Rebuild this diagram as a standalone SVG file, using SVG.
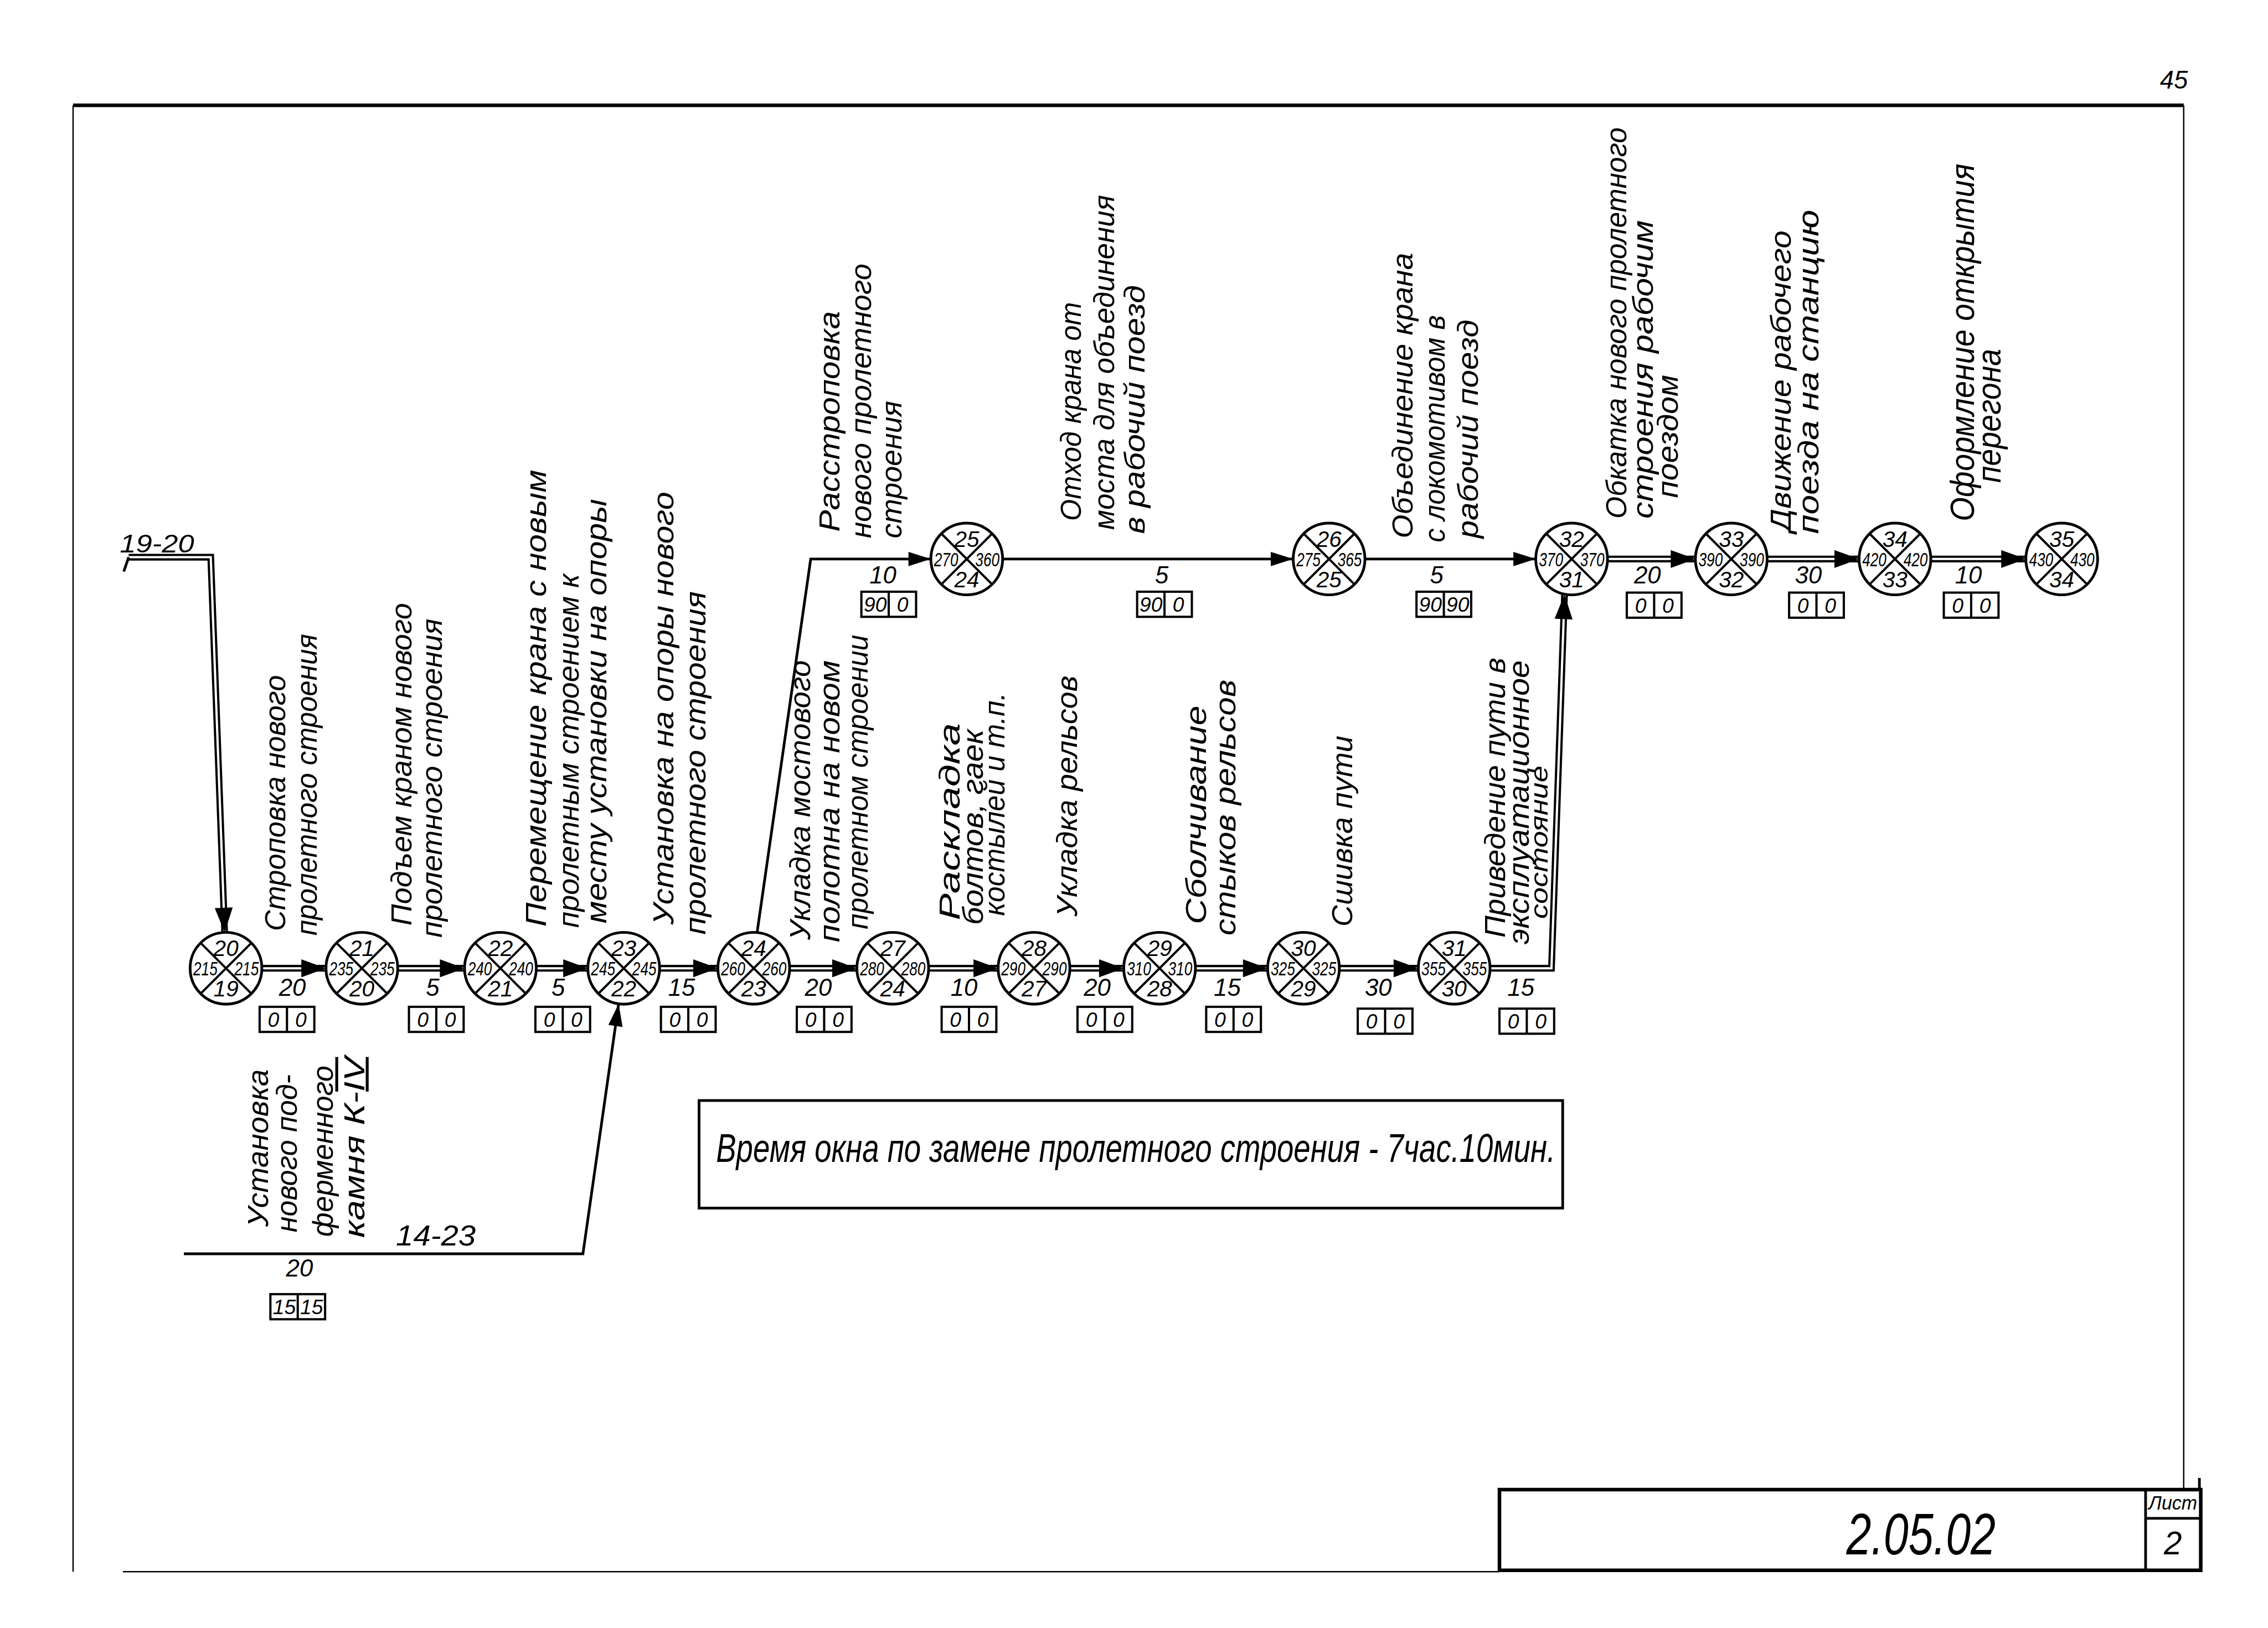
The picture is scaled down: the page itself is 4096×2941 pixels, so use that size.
<svg xmlns="http://www.w3.org/2000/svg" width="4096" height="2941" viewBox="0 0 4096 2941">
<style>
.t{font-family:'Liberation Sans','DejaVu Sans',sans-serif;font-style:italic;fill:#000}
.lb{font-size:64px}
.nn{font-size:50px;text-anchor:middle}
.ns{font-size:44px;text-anchor:middle}
.du{font-size:54px;text-anchor:middle}
.bt{font-size:46px;text-anchor:middle}
.nc{fill:#fff;stroke:#000;stroke-width:6}
.nx{stroke:#000;stroke-width:5;fill:none}
.d1{fill:none;stroke:#000;stroke-width:15;stroke-linejoin:miter}
.d2{fill:none;stroke:#fff;stroke-width:5;stroke-linejoin:miter}
.s1{fill:none;stroke:#000;stroke-width:6}
.ah{fill:#000}
.br{fill:#fff;stroke:#000;stroke-width:5}
.fr{fill:none;stroke:#000}
</style>
<rect width="4096" height="2941" fill="#fff"/>
<g transform="scale(0.80981)">
<g id="frame">
<path class="fr" stroke-width="8" d="M163 235H4870"/>
<path class="fr" stroke-width="3" d="M163 235V3506"/>
<path class="fr" stroke-width="3" d="M4870 235V3323"/>
<path class="fr" stroke-width="3" d="M274 3506H3344"/>
<rect class="fr" stroke-width="8" x="3344" y="3323" width="1564" height="180"/>
<path class="fr" stroke-width="6" d="M4785 3323V3503M4785 3387H4908M4905 3297V3323"/>
<text class="t" x="4284" y="3467" font-size="130" text-anchor="middle" textLength="333" lengthAdjust="spacingAndGlyphs">2.05.02</text>
<text class="t" x="4846" y="3368" font-size="44" text-anchor="middle" textLength="108" lengthAdjust="spacingAndGlyphs">Лист</text>
<text class="t" x="4846" y="3468" font-size="72" text-anchor="middle">2</text>
<text class="t" x="4848" y="198" font-size="56" text-anchor="middle">45</text>
</g>
<g id="connectors">
<path class="d1" d="M287 1243H470L504 2160"/>
<path class="d2" d="M287 1243H470L504 2160"/>
<path class="s1" stroke-width="4" d="M287 1243L276 1275"/>
<path class="d1" d="M504 2160H3460L3490 1300"/>
<path class="d2" d="M504 2160H3460L3490 1300"/>
<path class="d1" d="M3505 1247H4598"/>
<path class="d2" d="M3505 1247H4598"/>
<path class="s1" d="M1677 2160L1808 1247H3505"/>
<path class="s1" d="M410 2797H1300L1391 2160"/>
<g class="ah">
<polygon points="501,2080 479,2025.7 519,2024.3"/>
<polygon points="727,2160 672,2140 672,2180"/>
<polygon points="1036,2160 981,2140 981,2180"/>
<polygon points="1311,2160 1256,2140 1256,2180"/>
<polygon points="1601,2160 1546,2140 1546,2180"/>
<polygon points="1911,2160 1856,2140 1856,2180"/>
<polygon points="2226,2160 2171,2140 2171,2180"/>
<polygon points="2506,2160 2451,2140 2451,2180"/>
<polygon points="2827,2160 2772,2140 2772,2180"/>
<polygon points="3163,2160 3108,2140 3108,2180"/>
<polygon points="3489,1326 3467,1380.3 3507,1381.7"/>
<polygon points="3781,1247 3726,1227 3726,1267"/>
<polygon points="4146,1247 4091,1227 4091,1267"/>
<polygon points="4518,1247 4463,1227 4463,1267"/>
<polygon points="2076,1247 2026,1231 2026,1263"/>
<polygon points="2884,1247 2834,1231 2834,1263"/>
<polygon points="3425,1247 3375,1231 3375,1263"/>
<polygon points="1379.7,2239.2 1356.8,2286.4 1388.4,2291"/>
</g>
<text class="t" x="350" y="1232" font-size="56" text-anchor="middle" textLength="166" lengthAdjust="spacingAndGlyphs">19-20</text>
<text class="t" x="972" y="2778" font-size="64" text-anchor="middle" textLength="178" lengthAdjust="spacingAndGlyphs">14-23</text>
<g id="durations">
<text class="t du" x="652" y="2222">20</text>
<text class="t du" x="965" y="2222">5</text>
<text class="t du" x="1245" y="2222">5</text>
<text class="t du" x="1520" y="2222">15</text>
<text class="t du" x="1825" y="2222">20</text>
<text class="t du" x="2150" y="2222">10</text>
<text class="t du" x="2447" y="2222">20</text>
<text class="t du" x="2737" y="2222">15</text>
<text class="t du" x="3074" y="2222">30</text>
<text class="t du" x="3392" y="2222">15</text>
<text class="t du" x="1969" y="1302">10</text>
<text class="t du" x="2591" y="1302">5</text>
<text class="t du" x="3204" y="1302">5</text>
<text class="t du" x="3674" y="1302">20</text>
<text class="t du" x="4033" y="1302">30</text>
<text class="t du" x="4390" y="1302">10</text>
<text class="t du" x="668" y="2848">20</text>
</g>
<g id="boxes">
<g><rect class="br" x="579" y="2246" width="122" height="56"/><path class="nx" d="M640 2246V2302"/><text class="t bt" x="610" y="2291">0</text><text class="t bt" x="671" y="2291">0</text></g>
<g><rect class="br" x="912" y="2246" width="122" height="56"/><path class="nx" d="M973 2246V2302"/><text class="t bt" x="943" y="2291">0</text><text class="t bt" x="1004" y="2291">0</text></g>
<g><rect class="br" x="1194" y="2246" width="122" height="56"/><path class="nx" d="M1255 2246V2302"/><text class="t bt" x="1225" y="2291">0</text><text class="t bt" x="1286" y="2291">0</text></g>
<g><rect class="br" x="1474" y="2246" width="122" height="56"/><path class="nx" d="M1535 2246V2302"/><text class="t bt" x="1505" y="2291">0</text><text class="t bt" x="1566" y="2291">0</text></g>
<g><rect class="br" x="1777" y="2246" width="122" height="56"/><path class="nx" d="M1838 2246V2302"/><text class="t bt" x="1808" y="2291">0</text><text class="t bt" x="1869" y="2291">0</text></g>
<g><rect class="br" x="2100" y="2246" width="122" height="56"/><path class="nx" d="M2161 2246V2302"/><text class="t bt" x="2131" y="2291">0</text><text class="t bt" x="2192" y="2291">0</text></g>
<g><rect class="br" x="2403" y="2246" width="122" height="56"/><path class="nx" d="M2464 2246V2302"/><text class="t bt" x="2434" y="2291">0</text><text class="t bt" x="2495" y="2291">0</text></g>
<g><rect class="br" x="2690" y="2246" width="122" height="56"/><path class="nx" d="M2751 2246V2302"/><text class="t bt" x="2721" y="2291">0</text><text class="t bt" x="2782" y="2291">0</text></g>
<g><rect class="br" x="3028" y="2250" width="122" height="56"/><path class="nx" d="M3089 2250V2306"/><text class="t bt" x="3059" y="2295">0</text><text class="t bt" x="3120" y="2295">0</text></g>
<g><rect class="br" x="3344" y="2250" width="122" height="56"/><path class="nx" d="M3405 2250V2306"/><text class="t bt" x="3375" y="2295">0</text><text class="t bt" x="3436" y="2295">0</text></g>
<g><rect class="br" x="1921" y="1320" width="122" height="56"/><path class="nx" d="M1982 1320V1376"/><text class="t bt" x="1952" y="1365">90</text><text class="t bt" x="2013" y="1365">0</text></g>
<g><rect class="br" x="2536" y="1320" width="122" height="56"/><path class="nx" d="M2597 1320V1376"/><text class="t bt" x="2567" y="1365">90</text><text class="t bt" x="2628" y="1365">0</text></g>
<g><rect class="br" x="3159" y="1320" width="122" height="56"/><path class="nx" d="M3220 1320V1376"/><text class="t bt" x="3190" y="1365">90</text><text class="t bt" x="3251" y="1365">90</text></g>
<g><rect class="br" x="3628" y="1322" width="122" height="56"/><path class="nx" d="M3689 1322V1378"/><text class="t bt" x="3659" y="1367">0</text><text class="t bt" x="3720" y="1367">0</text></g>
<g><rect class="br" x="3990" y="1322" width="122" height="56"/><path class="nx" d="M4051 1322V1378"/><text class="t bt" x="4021" y="1367">0</text><text class="t bt" x="4082" y="1367">0</text></g>
<g><rect class="br" x="4335" y="1322" width="122" height="56"/><path class="nx" d="M4396 1322V1378"/><text class="t bt" x="4366" y="1367">0</text><text class="t bt" x="4427" y="1367">0</text></g>
<g><rect class="br" x="603" y="2887" width="122" height="56"/><path class="nx" d="M664 2887V2943"/><text class="t bt" x="634" y="2932">15</text><text class="t bt" x="695" y="2932">15</text></g>
</g>
</g>
<g id="nodes">
<g id="n20"><circle class="nc" cx="504" cy="2160" r="80"/><path class="nx" d="M447.4 2103.4L560.6 2216.6M560.6 2103.4L447.4 2216.6"/><text class="t nn" x="504" y="2133">20</text><text class="t ns" x="458" y="2176" textLength="54" lengthAdjust="spacingAndGlyphs">215</text><text class="t ns" x="550" y="2176" textLength="54" lengthAdjust="spacingAndGlyphs">215</text><text class="t nn" x="504" y="2223">19</text></g>
<g id="n21"><circle class="nc" cx="807" cy="2160" r="80"/><path class="nx" d="M750.4 2103.4L863.6 2216.6M863.6 2103.4L750.4 2216.6"/><text class="t nn" x="807" y="2133">21</text><text class="t ns" x="761" y="2176" textLength="54" lengthAdjust="spacingAndGlyphs">235</text><text class="t ns" x="853" y="2176" textLength="54" lengthAdjust="spacingAndGlyphs">235</text><text class="t nn" x="807" y="2223">20</text></g>
<g id="n22"><circle class="nc" cx="1116" cy="2160" r="80"/><path class="nx" d="M1059.4 2103.4L1172.6 2216.6M1172.6 2103.4L1059.4 2216.6"/><text class="t nn" x="1116" y="2133">22</text><text class="t ns" x="1070" y="2176" textLength="54" lengthAdjust="spacingAndGlyphs">240</text><text class="t ns" x="1162" y="2176" textLength="54" lengthAdjust="spacingAndGlyphs">240</text><text class="t nn" x="1116" y="2223">21</text></g>
<g id="n23"><circle class="nc" cx="1391" cy="2160" r="80"/><path class="nx" d="M1334.4 2103.4L1447.6 2216.6M1447.6 2103.4L1334.4 2216.6"/><text class="t nn" x="1391" y="2133">23</text><text class="t ns" x="1345" y="2176" textLength="54" lengthAdjust="spacingAndGlyphs">245</text><text class="t ns" x="1437" y="2176" textLength="54" lengthAdjust="spacingAndGlyphs">245</text><text class="t nn" x="1391" y="2223">22</text></g>
<g id="n24"><circle class="nc" cx="1681" cy="2160" r="80"/><path class="nx" d="M1624.4 2103.4L1737.6 2216.6M1737.6 2103.4L1624.4 2216.6"/><text class="t nn" x="1681" y="2133">24</text><text class="t ns" x="1635" y="2176" textLength="54" lengthAdjust="spacingAndGlyphs">260</text><text class="t ns" x="1727" y="2176" textLength="54" lengthAdjust="spacingAndGlyphs">260</text><text class="t nn" x="1681" y="2223">23</text></g>
<g id="n27"><circle class="nc" cx="1991" cy="2160" r="80"/><path class="nx" d="M1934.4 2103.4L2047.6 2216.6M2047.6 2103.4L1934.4 2216.6"/><text class="t nn" x="1991" y="2133">27</text><text class="t ns" x="1945" y="2176" textLength="54" lengthAdjust="spacingAndGlyphs">280</text><text class="t ns" x="2037" y="2176" textLength="54" lengthAdjust="spacingAndGlyphs">280</text><text class="t nn" x="1991" y="2223">24</text></g>
<g id="n28"><circle class="nc" cx="2306" cy="2160" r="80"/><path class="nx" d="M2249.4 2103.4L2362.6 2216.6M2362.6 2103.4L2249.4 2216.6"/><text class="t nn" x="2306" y="2133">28</text><text class="t ns" x="2260" y="2176" textLength="54" lengthAdjust="spacingAndGlyphs">290</text><text class="t ns" x="2352" y="2176" textLength="54" lengthAdjust="spacingAndGlyphs">290</text><text class="t nn" x="2306" y="2223">27</text></g>
<g id="n29"><circle class="nc" cx="2586" cy="2160" r="80"/><path class="nx" d="M2529.4 2103.4L2642.6 2216.6M2642.6 2103.4L2529.4 2216.6"/><text class="t nn" x="2586" y="2133">29</text><text class="t ns" x="2540" y="2176" textLength="54" lengthAdjust="spacingAndGlyphs">310</text><text class="t ns" x="2632" y="2176" textLength="54" lengthAdjust="spacingAndGlyphs">310</text><text class="t nn" x="2586" y="2223">28</text></g>
<g id="n30"><circle class="nc" cx="2907" cy="2160" r="80"/><path class="nx" d="M2850.4 2103.4L2963.6 2216.6M2963.6 2103.4L2850.4 2216.6"/><text class="t nn" x="2907" y="2133">30</text><text class="t ns" x="2861" y="2176" textLength="54" lengthAdjust="spacingAndGlyphs">325</text><text class="t ns" x="2953" y="2176" textLength="54" lengthAdjust="spacingAndGlyphs">325</text><text class="t nn" x="2907" y="2223">29</text></g>
<g id="n31"><circle class="nc" cx="3243" cy="2160" r="80"/><path class="nx" d="M3186.4 2103.4L3299.6 2216.6M3299.6 2103.4L3186.4 2216.6"/><text class="t nn" x="3243" y="2133">31</text><text class="t ns" x="3197" y="2176" textLength="54" lengthAdjust="spacingAndGlyphs">355</text><text class="t ns" x="3289" y="2176" textLength="54" lengthAdjust="spacingAndGlyphs">355</text><text class="t nn" x="3243" y="2223">30</text></g>
<g id="n25"><circle class="nc" cx="2156" cy="1247" r="80"/><path class="nx" d="M2099.4 1190.4L2212.6 1303.6M2212.6 1190.4L2099.4 1303.6"/><text class="t nn" x="2156" y="1220">25</text><text class="t ns" x="2110" y="1263" textLength="54" lengthAdjust="spacingAndGlyphs">270</text><text class="t ns" x="2202" y="1263" textLength="54" lengthAdjust="spacingAndGlyphs">360</text><text class="t nn" x="2156" y="1310">24</text></g>
<g id="n26"><circle class="nc" cx="2964" cy="1247" r="80"/><path class="nx" d="M2907.4 1190.4L3020.6 1303.6M3020.6 1190.4L2907.4 1303.6"/><text class="t nn" x="2964" y="1220">26</text><text class="t ns" x="2918" y="1263" textLength="54" lengthAdjust="spacingAndGlyphs">275</text><text class="t ns" x="3010" y="1263" textLength="54" lengthAdjust="spacingAndGlyphs">365</text><text class="t nn" x="2964" y="1310">25</text></g>
<g id="n32"><circle class="nc" cx="3505" cy="1247" r="80"/><path class="nx" d="M3448.4 1190.4L3561.6 1303.6M3561.6 1190.4L3448.4 1303.6"/><text class="t nn" x="3505" y="1220">32</text><text class="t ns" x="3459" y="1263" textLength="54" lengthAdjust="spacingAndGlyphs">370</text><text class="t ns" x="3551" y="1263" textLength="54" lengthAdjust="spacingAndGlyphs">370</text><text class="t nn" x="3505" y="1310">31</text></g>
<g id="n33"><circle class="nc" cx="3861" cy="1247" r="80"/><path class="nx" d="M3804.4 1190.4L3917.6 1303.6M3917.6 1190.4L3804.4 1303.6"/><text class="t nn" x="3861" y="1220">33</text><text class="t ns" x="3815" y="1263" textLength="54" lengthAdjust="spacingAndGlyphs">390</text><text class="t ns" x="3907" y="1263" textLength="54" lengthAdjust="spacingAndGlyphs">390</text><text class="t nn" x="3861" y="1310">32</text></g>
<g id="n34"><circle class="nc" cx="4226" cy="1247" r="80"/><path class="nx" d="M4169.4 1190.4L4282.6 1303.6M4282.6 1190.4L4169.4 1303.6"/><text class="t nn" x="4226" y="1220">34</text><text class="t ns" x="4180" y="1263" textLength="54" lengthAdjust="spacingAndGlyphs">420</text><text class="t ns" x="4272" y="1263" textLength="54" lengthAdjust="spacingAndGlyphs">420</text><text class="t nn" x="4226" y="1310">33</text></g>
<g id="n35"><circle class="nc" cx="4598" cy="1247" r="80"/><path class="nx" d="M4541.4 1190.4L4654.6 1303.6M4654.6 1190.4L4541.4 1303.6"/><text class="t nn" x="4598" y="1220">35</text><text class="t ns" x="4552" y="1263" textLength="54" lengthAdjust="spacingAndGlyphs">430</text><text class="t ns" x="4644" y="1263" textLength="54" lengthAdjust="spacingAndGlyphs">430</text><text class="t nn" x="4598" y="1310">34</text></g>
</g>
<g id="labels">
<text class="t lb" transform="translate(636 2077) rotate(-90)" textLength="571" lengthAdjust="spacingAndGlyphs">Строповка нового</text>
<text class="t lb" transform="translate(706 2087) rotate(-90)" textLength="673" lengthAdjust="spacingAndGlyphs">пролетного строения</text>
<text class="t lb" transform="translate(918 2065) rotate(-90)" textLength="720" lengthAdjust="spacingAndGlyphs">Подъем краном нового</text>
<text class="t lb" transform="translate(985 2092) rotate(-90)" textLength="712" lengthAdjust="spacingAndGlyphs">пролетного строения</text>
<text class="t lb" transform="translate(1218 2067) rotate(-90)" textLength="1019" lengthAdjust="spacingAndGlyphs">Перемещение крана с новым</text>
<text class="t lb" transform="translate(1290 2070) rotate(-90)" textLength="790" lengthAdjust="spacingAndGlyphs">пролетным строением к</text>
<text class="t lb" transform="translate(1352 2060) rotate(-90)" textLength="947" lengthAdjust="spacingAndGlyphs">месту установки на опоры</text>
<text class="t lb" transform="translate(1502 2063) rotate(-90)" textLength="966" lengthAdjust="spacingAndGlyphs">Установка на опоры нового</text>
<text class="t lb" transform="translate(1573 2085) rotate(-90)" textLength="766" lengthAdjust="spacingAndGlyphs">пролетного строения</text>
<text class="t lb" transform="translate(1806 2097) rotate(-90)" textLength="624" lengthAdjust="spacingAndGlyphs">Укладка мостового</text>
<text class="t lb" transform="translate(1872 2102) rotate(-90)" textLength="629" lengthAdjust="spacingAndGlyphs">полотна на новом</text>
<text class="t lb" transform="translate(1935 2073) rotate(-90)" textLength="657" lengthAdjust="spacingAndGlyphs">пролетном строении</text>
<text class="t lb" transform="translate(2140 2053) rotate(-90)" textLength="440" lengthAdjust="spacingAndGlyphs">Раскладка</text>
<text class="t lb" transform="translate(2192 2063) rotate(-90)" textLength="436" lengthAdjust="spacingAndGlyphs">болтов, гаек</text>
<text class="t lb" transform="translate(2240 2043) rotate(-90)" textLength="498" lengthAdjust="spacingAndGlyphs">костылей и т.п.</text>
<text class="t lb" transform="translate(2402 2045) rotate(-90)" textLength="538" lengthAdjust="spacingAndGlyphs">Укладка рельсов</text>
<text class="t lb" transform="translate(2690 2062) rotate(-90)" textLength="488" lengthAdjust="spacingAndGlyphs">Сболчивание</text>
<text class="t lb" transform="translate(2755 2087) rotate(-90)" textLength="571" lengthAdjust="spacingAndGlyphs">стыков рельсов</text>
<text class="t lb" transform="translate(3015 2067) rotate(-90)" textLength="426" lengthAdjust="spacingAndGlyphs">Сшивка пути</text>
<text class="t lb" transform="translate(3356 2092) rotate(-90)" textLength="625" lengthAdjust="spacingAndGlyphs">Приведение пути в</text>
<text class="t lb" transform="translate(3410 2107) rotate(-90)" textLength="634" lengthAdjust="spacingAndGlyphs">эксплуатационное</text>
<text class="t" font-size="54" transform="translate(3452 2050) rotate(-90)" textLength="342" lengthAdjust="spacingAndGlyphs">состояние</text>
<text class="t lb" transform="translate(1872 1186) rotate(-90)" textLength="492" lengthAdjust="spacingAndGlyphs">Расстроповка</text>
<text class="t lb" transform="translate(1942 1201) rotate(-90)" textLength="613" lengthAdjust="spacingAndGlyphs">нового пролетного</text>
<text class="t lb" transform="translate(2010 1201) rotate(-90)" textLength="307" lengthAdjust="spacingAndGlyphs">строения</text>
<text class="t lb" transform="translate(2410 1162) rotate(-90)" textLength="488" lengthAdjust="spacingAndGlyphs">Отход крана от</text>
<text class="t lb" transform="translate(2484 1182) rotate(-90)" textLength="747" lengthAdjust="spacingAndGlyphs">моста для объединения</text>
<text class="t lb" transform="translate(2552 1191) rotate(-90)" textLength="555" lengthAdjust="spacingAndGlyphs">в рабочий поезд</text>
<text class="t lb" transform="translate(3150 1201) rotate(-90)" textLength="637" lengthAdjust="spacingAndGlyphs">Объединение крана</text>
<text class="t lb" transform="translate(3222 1210) rotate(-90)" textLength="507" lengthAdjust="spacingAndGlyphs">с локомотивом в</text>
<text class="t lb" transform="translate(3296 1201) rotate(-90)" textLength="488" lengthAdjust="spacingAndGlyphs">рабочий поезд</text>
<text class="t lb" transform="translate(3627 1157) rotate(-90)" textLength="873" lengthAdjust="spacingAndGlyphs">Обкатка нового пролетного</text>
<text class="t lb" transform="translate(3686 1157) rotate(-90)" textLength="666" lengthAdjust="spacingAndGlyphs">строения рабочим</text>
<text class="t lb" transform="translate(3742 1111) rotate(-90)" textLength="275" lengthAdjust="spacingAndGlyphs">поездом</text>
<text class="t lb" transform="translate(3993 1186) rotate(-90)" textLength="672" lengthAdjust="spacingAndGlyphs">Движение рабочего</text>
<text class="t lb" transform="translate(4055 1191) rotate(-90)" textLength="723" lengthAdjust="spacingAndGlyphs">поезда на станцию</text>
<text class="t" font-size="76" transform="translate(4402 1163) rotate(-90)" textLength="798" lengthAdjust="spacingAndGlyphs">Оформление открытия</text>
<text class="t" font-size="76" transform="translate(4462 1077) rotate(-90)" textLength="299" lengthAdjust="spacingAndGlyphs">перегона</text>
<text class="t lb" transform="translate(598 2737) rotate(-90)" textLength="352" lengthAdjust="spacingAndGlyphs">Установка</text>
<text class="t lb" transform="translate(662 2749) rotate(-90)" textLength="352" lengthAdjust="spacingAndGlyphs">нового под-</text>
<text class="t lb" transform="translate(742 2759) rotate(-90)" textLength="382" lengthAdjust="spacingAndGlyphs">ферменного</text>
<text class="t lb" transform="translate(812 2761) rotate(-90)" textLength="403" lengthAdjust="spacingAndGlyphs">камня К-<tspan text-decoration="overline underline">IV</tspan></text>
</g>
<g id="window">
<rect class="fr" stroke-width="6" x="1559" y="2455" width="1926" height="240"/>
<text class="t" x="1597" y="2592" font-size="90" textLength="1872" lengthAdjust="spacingAndGlyphs">Время окна по замене пролетного строения - 7час.10мин.</text>
</g>
</g>
</svg>
